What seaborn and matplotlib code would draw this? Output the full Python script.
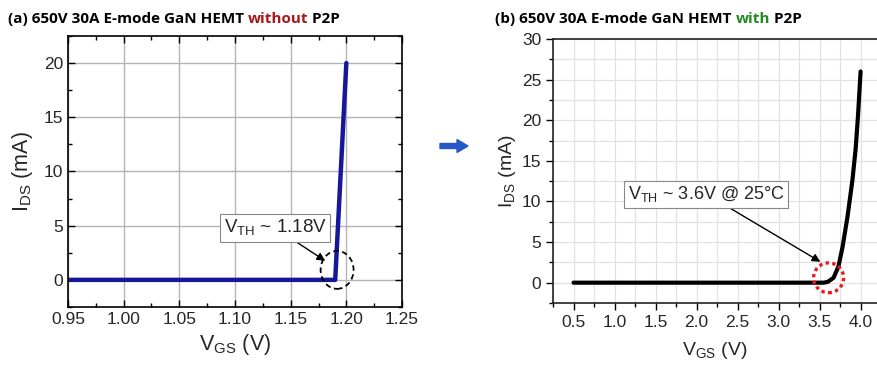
import matplotlib
matplotlib.use("Agg")
import matplotlib.pyplot as plt
import seaborn as sns
import pandas as pd
import numpy as np
from matplotlib.patches import Ellipse
from matplotlib.ticker import MultipleLocator

# ---- data ----
vgs_a = [0.95, 1.19, 1.20]
ids_a = [0.0, 0.0, 20.0]

vgs_b = [0.5, 1.0, 2.0, 3.0, 3.55, 3.60, 3.67, 3.73, 3.78, 3.84, 3.90, 3.94, 3.97, 4.00]
ids_b = [0.0, 0.0, 0.0, 0.0, 0.0, 0.1, 0.6, 2.0, 4.4, 8.1, 12.6, 16.5, 20.8, 26.0]

title_a = ["(a) 650V 30A E-mode GaN HEMT ", "without", " P2P"]
title_b = ["(b) 650V 30A E-mode GaN HEMT ", "with", " P2P"]
xticks_a = [0.95, 1.00, 1.05, 1.10, 1.15, 1.20, 1.25]
yticks_a = [0, 5, 10, 15, 20]
xticks_b = [0.5, 1.0, 1.5, 2.0, 2.5, 3.0, 3.5, 4.0]
yticks_b = [0, 5, 10, 15, 20, 25, 30]

sns.set_style("ticks")
plt.rcParams['font.family'] = ['Liberation Sans', 'DejaVu Sans']

fig = plt.figure(figsize=(8.77, 3.65), dpi=100)

# ---- left panel ----
ax1 = fig.add_axes([0.0775, 0.159, 0.3809, 0.7425])
df_a = pd.DataFrame({"VGS": vgs_a, "IDS": ids_a})
sns.lineplot(data=df_a, x="VGS", y="IDS", ax=ax1, color="#17179c", linewidth=3.2,
             sort=False, estimator=None)
ax1.set_xlim(0.95, 1.25)
ax1.set_ylim(-2.5, 22.5)
ax1.set_xticks(xticks_a)
ax1.set_xticklabels([f"{v:.2f}" for v in xticks_a])
ax1.set_yticks(yticks_a)
ax1.xaxis.set_minor_locator(MultipleLocator(0.025))
ax1.yaxis.set_minor_locator(MultipleLocator(2.5))
ax1.grid(True, which="major", color="#b4b4b4", linewidth=1.0)
ax1.tick_params(which="both", direction="in", top=True, right=True, labelsize=12.5,
                color="black", width=1.0)
ax1.tick_params(which="major", length=5)
ax1.tick_params(which="minor", length=3)
for s in ax1.spines.values():
    s.set_linewidth(1.2)
    s.set_color("black")
ax1.set_xlabel("V$_{\\mathregular{GS}}$ (V)", fontsize=15.5, labelpad=4)
ax1.set_ylabel("I$_{\\mathregular{DS}}$ (mA)", fontsize=15.5, labelpad=6)
ax1.annotate("V$_{\\mathregular{TH}}$ ~ 1.18V", xy=(1.181, 1.75), xytext=(1.136, 4.79),
             ha="center", va="center", fontsize=13.5,
             bbox=dict(boxstyle="square,pad=0.2", fc="white", ec="#888888", lw=0.8),
             arrowprops=dict(arrowstyle="-|>", color="black", lw=1.0, shrinkA=0, shrinkB=0,
                             mutation_scale=12), zorder=5)
ax1.add_patch(Ellipse((1.1917, 0.92), 0.0296, 3.5, fill=False, ec="black", ls=(0, (3, 2)),
                      lw=1.3, zorder=6))

# ---- right panel ----
ax2 = fig.add_axes([0.6306, 0.1699, 0.3694, 0.7233])
df_b = pd.DataFrame({"VGS": vgs_b, "IDS": ids_b})
sns.lineplot(data=df_b, x="VGS", y="IDS", ax=ax2, color="black", linewidth=3.0,
             sort=False, estimator=None)
ax2.set_xlim(0.25, 4.2)
ax2.set_ylim(-2.5, 30)
ax2.set_xticks(xticks_b)
ax2.set_xticklabels([f"{v:.1f}" for v in xticks_b])
ax2.set_yticks(yticks_b)
ax2.xaxis.set_minor_locator(MultipleLocator(0.25))
ax2.yaxis.set_minor_locator(MultipleLocator(2.5))
ax2.grid(True, which="both", color="#e2e2e2", linewidth=0.9)
ax2.tick_params(which="both", direction="out", labelsize=12.5, color="black", width=1.0)
ax2.tick_params(which="major", length=5)
ax2.tick_params(which="minor", length=3)
ax2.spines["right"].set_visible(False)
for k in ["left", "bottom", "top"]:
    ax2.spines[k].set_linewidth(1.2)
    ax2.spines[k].set_color("#222222")
ax2.set_xlabel("V$_{\\mathregular{GS}}$ (V)", fontsize=14, labelpad=7)
ax2.set_ylabel("I$_{\\mathregular{DS}}$ (mA)", fontsize=14, labelpad=3)
ax2.annotate("V$_{\\mathregular{TH}}$ ~ 3.6V @ 25°C", xy=(3.51, 2.57), xytext=(2.12, 10.9),
             ha="center", va="center", fontsize=13,
             bbox=dict(boxstyle="square,pad=0.2", fc="white", ec="#888888", lw=0.8),
             arrowprops=dict(arrowstyle="-|>", color="black", lw=1.0, shrinkA=0, shrinkB=0,
                             mutation_scale=12), zorder=5)
ax2.add_patch(Ellipse((3.61, 0.6), 0.366, 3.67, fill=False, ec="#e8191e", ls=(0, (1, 1)),
                      lw=2.4, zorder=6))

# ---- titles with coloured word ----
fig.canvas.draw()
renderer = fig.canvas.get_renderer()

def colored_title(parts, colors, x0_px, y_px):
    x = x0_px
    for p, c in zip(parts, colors):
        t = fig.text(x / 877, 1 - y_px / 365, p, color=c, fontsize=11, fontweight="bold",
                     family=["Open Sans", "DejaVu Sans"], ha="left", va="baseline")
        bb = t.get_window_extent(renderer=renderer)
        x += bb.width

colored_title(title_a, ["black", "#a8161a", "black"], 8, 23)
colored_title(title_b, ["black", "#1f8a1f", "black"], 495, 23)

# ---- middle arrow ----
fig.patches.append(matplotlib.patches.FancyArrow(440 / 877, 1 - 146 / 365, 28 / 877, 0,
                   width=5 / 365, head_width=13 / 365, head_length=11 / 877,
                   length_includes_head=True, color="#2458c6", transform=fig.transFigure,
                   figure=fig))

fig.savefig("out.png", dpi=100)
